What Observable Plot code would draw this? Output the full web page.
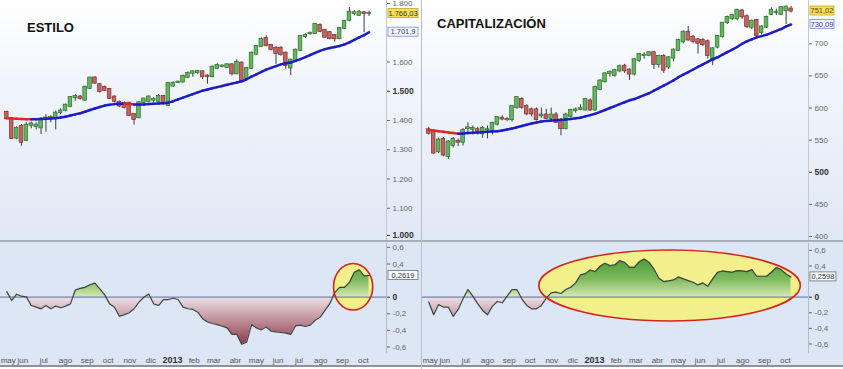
<!DOCTYPE html>
<html>
<head>
<meta charset="utf-8">
<script src="https://cdn.jsdelivr.net/npm/d3@7"></script>
<script src="https://cdn.jsdelivr.net/npm/@observablehq/plot@0.6"></script>
<style>
html,body{margin:0;padding:0;background:#fff;}
#root{position:relative;width:843px;height:369px;overflow:hidden;background:#fff;font-family:"Liberation Sans",Arial,sans-serif;}
.pan{position:absolute;top:0;width:421px;height:369px;}
.up{position:absolute;left:0;top:0;width:421px;height:240px;background:linear-gradient(#ffffff 0%,#f1f5fb 35%,#dfe8f6 100%);}
.sep{position:absolute;left:0;top:240px;width:421px;height:2px;background:#a7aeb9;}
.lo{position:absolute;left:0;top:242px;width:421px;height:124px;background:#dde6f5;}
.bot{position:absolute;left:0;top:365px;width:421px;height:2px;background:#8c929b;}
.vsep{position:absolute;left:421px;top:0;width:1px;height:369px;background:#b7bcc5;}
.ttl{position:absolute;font-weight:bold;font-size:13px;color:#111;white-space:nowrap;line-height:1;}
.slot{position:absolute;left:0;}
</style>
</head>
<body>
<div id="root"></div>
<script>
// ---------- shared axis data ----------
const weeks = d3.utcFriday.range(new Date(Date.UTC(2012, 4, 11)), new Date(Date.UTC(2013, 9, 12)));
const xDomain = [new Date(Date.UTC(2012, 4, 2)), new Date(Date.UTC(2013, 10, 5))];
const monthTicks = ["2012-05-13","2012-06-03","2012-07-03","2012-08-03","2012-09-03","2012-10-03","2012-11-03","2012-12-03","2013-02-03","2013-03-03","2013-04-03","2013-05-03","2013-06-03","2013-07-03","2013-08-03","2013-09-03","2013-10-03"];
const monthLabels = ["may","jun","jul","ago","sep","oct","nov","dic","feb","mar","abr","may","jun","jul","ago","sep","oct"];
const yearTicks = ["2013-01-03"];
const yearLabels = ["2013"];

// ---------- ESTILO ----------
const estiloOpen = [1427,1406,1340,1380,1332,1384,1380,1375,1405,1406, 1408,1428,1435,1448,1478,1480,1470,1510,1545,1522, 1512,1506,1480,1462,1458,1459,1420,1410,1462,1466, 1470,1466,1482,1452,1518,1530,1532,1548,1562,1564, 1566,1552,1550,1578,1585,1582,1590,1560,1596,1544, 1578,1627,1653,1680,1656,1647,1647,1630,1580,1606, 1640,1688,1697,1698,1725,1708,1700,1690,1680,1715, 1742,1766,1760,1768,1766];
const estiloHigh = [1432,1410,1378,1386,1392,1394,1392,1410,1420,1416, 1432,1440,1456,1482,1488,1486,1518,1548,1550,1526, 1518,1510,1484,1466,1464,1462,1424,1464,1476,1484, 1478,1488,1486,1530,1532,1534,1555,1566,1570,1570, 1570,1556,1586,1594,1590,1594,1594,1608,1600,1582, 1634,1656,1682,1690,1660,1652,1652,1634,1610,1644, 1690,1696,1702,1732,1730,1712,1704,1694,1718,1742, 1786,1776,1776,1772,1774];
const estiloLow = [1404,1335,1334,1312,1328,1372,1368,1352,1360,1392, 1368,1420,1430,1444,1466,1470,1466,1506,1524,1494, 1500,1472,1462,1444,1440,1414,1384,1406,1452,1462, 1462,1462,1456,1448,1514,1526,1528,1544,1548,1558, 1540,1524,1546,1574,1580,1578,1552,1556,1532,1540, 1574,1624,1650,1652,1638,1592,1620,1575,1554,1602, 1636,1680,1692,1694,1700,1682,1676,1668,1676,1712, 1738,1758,1756,1700,1756];
const estiloClose = [1406,1339,1373,1326,1384,1388,1384,1404,1408,1410, 1425,1432,1452,1478,1482,1476,1513,1545,1528,1500, 1503,1476,1466,1450,1445,1418,1404,1460,1473,1480, 1472,1482,1460,1527,1527,1531,1551,1560,1566,1567, 1550,1550,1582,1588,1586,1590,1560,1598,1537,1578, 1630,1653,1677,1656,1643,1630,1626,1588,1606,1640, 1687,1690,1698,1728,1705,1685,1680,1680,1715,1738, 1770,1768,1770,1766,1766.03];
const estiloMA = [1408,1407,1406,1405,1404.5,1404,1404.5,1405,1406,1407, 1408,1410,1413,1417,1421,1425,1430,1436,1441,1446, 1451,1454,1456,1457,1457,1456,1455,1455,1455,1456, 1457,1458,1459,1461,1466,1472,1478,1484,1490,1496, 1502,1506,1510,1514,1518,1522,1526,1530,1534,1541, 1550,1558,1566,1574,1580,1586,1592,1596,1598,1604, 1610,1617,1624,1631,1638,1644,1648,1651,1655,1660, 1667,1676,1684,1692,1701.9];
const estiloOsc = [0.067,-0.04,0.036,0.012,0.004,-0.10,-0.12,-0.14,-0.10,-0.14, -0.107,-0.127,-0.107,-0.08,0.087,0.107,0.119,0.15,0.17,0.10, 0.028,-0.08,-0.12,-0.23,-0.21,-0.187,-0.139,-0.06,0.0,0.04, -0.08,-0.10,-0.028,-0.028,-0.012,-0.028,-0.12,-0.139,-0.147,-0.18, -0.258,-0.298,-0.317,-0.33,-0.35,-0.37,-0.448,-0.448,-0.567,-0.543, -0.33,-0.37,-0.393,-0.36,-0.41,-0.417,-0.425,-0.433,-0.448,-0.345, -0.337,-0.353,-0.337,-0.278,-0.242,-0.159,-0.075,0.056,0.119,0.119, 0.178,0.30,0.33,0.258,0.2619];
const estiloYTicks = [1100,1200,1300,1400,1600,1800];
const estiloYBold = [1500];
const estiloYBottom = [1000];
const estiloTagValues = [1766.03, 1701.9];
const estiloTagTexts = ["1.766,03", "1.701,9"];
const estiloOscTagValue = 0.2619;
const estiloOscTagText = "0,2619";
const estiloEllipse = {center: "2013-09-19", value: 0.12, halfDays: 28, halfValue: 0.28};

// ---------- CAPITALIZACIÓN ----------
const capOpen = [566,563,532,551,525,542,548,547,568,567, 566,560,566,565,575,584,582,582,601,613, 602,597,597,588,589,584,589,581,568,587, 596,598,597,611,597,629,641,654,651,658, 665,659,653,674,682,682,686,668,680,664, 678,690,703,718,710,706,705,703,674,695, 711,733,739,739,751,742,726,736,718,726, 746,749,746,752,754];
const capHigh = [570,565,553,554,549,554,552,568,577,572, 570,571,572,578,587,588,585,604,618,616, 605,600,600,600,598,600,593,584,592,598, 600,605,615,614,634,644,655,658,660,667, 668,661,677,685,686,688,688,682,683,680, 692,707,720,727,713,708,708,706,694,712, 733,743,746,754,753,745,737,738,728,743, 756,754,758,759,758];
const capLow = [558,528,529,524,520,538,540,541,560,558, 558,553,552,558,572,580,579,578,598,598, 588,586,580,584,582,580,576,557,566,585, 592,596,596,595,595,627,639,648,648,655, 654,643,650,671,676,680,660,662,654,660, 672,688,700,704,700,684,696,676,666,692, 709,730,736,736,738,724,722,711,714,724, 744,744,744,730,748];
const capClose = [561,530,550,527,547,551,547,565,569,568, 564,568,566,576,585,583,582,602,616,601, 591,591,582,589,584,589,578,568,589,596, 597,599,613,597,632,642,653,655,658,664, 658,653,675,683,682,686,668,680,659,678, 690,705,718,706,704,701,699,682,692,711, 732,741,744,752,742,727,735,713,726,741, 752,749,756,757,751.02];
const capMA = [566,565,564,563,562,561,560,560.5,561,561.5, 562,562.5,563,563.5,564,565,566.5,568,570,572, 574,576,577.5,579,580,580.5,581,581.5,582,583, 584,585,587,589,591,594,597,600,603,606, 609,612,614,617,620,623,627,631,635,639, 643,648,652,656,660,664,668,672,676,679, 683,687,691,695,700,704,707,710,712,714, 717,720,723,727,730.09];
const capOsc = [-0.064,-0.226,-0.094,-0.128,-0.128,-0.247,-0.157,-0.021,0.098,0.013, -0.085,-0.170,-0.226,-0.115,-0.055,-0.072,0.013,0.098,0.098,-0.021, -0.106,-0.149,-0.149,-0.106,-0.013,0.055,0.064,0.047,0.098,0.128, 0.183,0.285,0.302,0.349,0.328,0.396,0.434,0.404,0.413,0.468, 0.447,0.383,0.383,0.455,0.489,0.447,0.362,0.243,0.200,0.209, 0.221,0.260,0.234,0.213,0.191,0.157,0.183,0.140,0.234,0.319, 0.336,0.328,0.319,0.340,0.336,0.328,0.353,0.268,0.268,0.268, 0.319,0.379,0.353,0.298,0.2598];
const capYTicks = [400,450,550,600,650,700];
const capYBold = [500];
const capYBottom = [];
const capTagValues = [751.02, 730.09];
const capTagTexts = ["751,02", "730,09"];
const capOscTagValue = 0.2598;
const capOscTagText = "0,2598";
const capEllipse = {center: "2013-04-21", value: 0.144, halfDays: 187, halfValue: 0.455};

const oscTicks = [-0.6,-0.4,-0.2,0.4,0.6];
const oscBold = [0];

// ---------- helpers ----------
const FONT = "Liberation Sans, Arial, sans-serif";
const fmtThousands = v => d3.format(",.0f")(v).replace(/,/g, ".");
const fmtOsc = v => v === 0 ? "0" : v.toFixed(1).replace(".", ",");
const xLabel = new Map([
  ...monthTicks.map((d, i) => [+new Date(d), monthLabels[i]]),
  ...yearTicks.map((d, i) => [+new Date(d), yearLabels[i]])
]);

function tagMark(tags) {
  return (index, scales, values, dims) => {
    const g = d3.create("svg:g");
    const x0 = dims.width - dims.marginRight + 2;
    for (const t of tags) {
      const y = scales.y(t.value);
      g.append("rect").attr("x", x0).attr("y", y - 4.5).attr("width", t.w).attr("height", 9)
        .attr("fill", t.fill).attr("stroke", t.stroke).attr("stroke-width", 0.8);
      g.append("text").attr("x", x0 + t.w / 2).attr("y", y).attr("dy", "0.35em")
        .attr("text-anchor", "middle").attr("font-size", 7.5).attr("font-family", FONT)
        .attr("fill", t.color).text(t.text);
    }
    return g.node();
  };
}

function ellipseMark(e, part) {
  return (index, scales) => {
    const c = new Date(e.center);
    const cx = scales.x(c), cy = scales.y(e.value);
    const rx = scales.x(d3.utcDay.offset(c, e.halfDays)) - cx;
    const ry = scales.y(e.value - e.halfValue) - cy;
    const el = d3.create("svg:ellipse").attr("cx", cx).attr("cy", cy).attr("rx", rx).attr("ry", ry);
    if (part === "fill") el.attr("fill", "#f3ef8a").attr("stroke", "none");
    else el.attr("fill", "none").attr("stroke", "#d3261c").attr("stroke-width", 1.6);
    return el.node();
  };
}

function gradMark(id, top) {
  return (index, scales) => {
    const g = d3.create("svg:defs");
    const y1 = scales.y(top), y2 = scales.y(-0.6);
    const z = (scales.y(0) - y1) / (y2 - y1);
    const lg = g.append("linearGradient").attr("id", id).attr("gradientUnits", "userSpaceOnUse")
      .attr("x1", 0).attr("x2", 0).attr("y1", y1).attr("y2", y2);
    [[0, "#4a9936"], [z * 0.55, "#7fb95e"], [z, "#d4e9b2"], [z, "#eee1e7"], [1, "#8a3343"]]
      .forEach(([o, c]) => lg.append("stop").attr("offset", o).attr("stop-color", c));
    return g.node();
  };
}

function build(left, cfg) {
  const pan = d3.select("#root").append("div").attr("class", "pan").style("left", left + "px");
  pan.append("div").attr("class", "up");
  pan.append("div").attr("class", "lo");
  const rows = weeks.map((date, i) => ({
    date, o: cfg.open[i], h: cfg.high[i], l: cfg.low[i], c: cfg.close[i], ma: cfg.ma[i], osc: cfg.osc[i]
  }));
  const segs = rows.slice(1).map((b, i) => ({a: rows[i], b, up: b.ma >= rows[i].ma}));

  const upper = Plot.plot({
    width: 421, height: 240, marginLeft: 0, marginRight: 35, marginTop: 0, marginBottom: 0,
    style: {background: "transparent", fontFamily: FONT, overflow: "hidden"},
    x: {type: "utc", domain: xDomain, axis: null},
    y: {domain: cfg.yDomain, axis: null},
    color: {type: "identity"},
    marks: [
      Plot.ruleX([xDomain[1]], {stroke: "#c3c9d3"}),
      Plot.axisY({ticks: cfg.yTicks, tickFormat: cfg.yFmt, anchor: "right", tickSize: 3, tickPadding: 3, fontSize: 8, color: "#666", label: null}),
      Plot.axisY({ticks: cfg.yBold, tickFormat: cfg.yFmt, anchor: "right", tickSize: 3, tickPadding: 3, fontSize: 8.5, fontWeight: "bold", color: "#333", label: null}),
      Plot.axisY({ticks: cfg.yBottom, tickFormat: cfg.yFmt, anchor: "right", tickSize: 3, tickPadding: 3, fontSize: 8.5, fontWeight: "bold", color: "#333", dy: -2, label: null}),
      Plot.ruleX(rows, {x: "date", y1: "l", y2: "h", stroke: "#3a3a3a", strokeWidth: 1}),
      Plot.rect(rows, {
        x1: d => d3.utcHour.offset(d.date, -62), x2: d => d3.utcHour.offset(d.date, 62),
        y1: "o", y2: "c", insetTop: -0.6, insetBottom: -0.6,
        fill: d => d.c >= d.o ? "#63b85c" : "#c46461",
        stroke: d => d.c >= d.o ? "#2f6a2f" : "#7a2e2e", strokeWidth: 0.7
      }),
      Plot.link(segs, {
        x1: d => d.a.date, y1: d => d.a.ma, x2: d => d.b.date, y2: d => d.b.ma,
        stroke: d => d.up ? "#1d1dc4" : "#e02828", strokeWidth: 2.5, strokeLinecap: "round"
      }),
      tagMark(cfg.tags)
    ]
  });
  pan.append("div").attr("class", "slot").style("top", "0px").node().appendChild(upper);

  const lower = Plot.plot({
    width: 421, height: 124, marginLeft: 0, marginRight: 35, marginTop: 1, marginBottom: 13,
    style: {background: "transparent", fontFamily: FONT, overflow: "hidden"},
    x: {type: "utc", domain: xDomain, axis: null},
    y: {domain: cfg.oDomain, axis: null},
    marks: [
      gradMark(cfg.gradId, cfg.gradTop),
      ellipseMark(cfg.ellipse, "fill"),
      Plot.areaY(rows, {x: "date", y1: 0, y2: "osc", fill: `url(#${cfg.gradId})`}),
      Plot.ruleY([0], {stroke: "#7482b4", strokeWidth: 1.3}),
      Plot.lineY(rows, {x: "date", y: "osc", stroke: "#3b4446", strokeWidth: 1.2}),
      ellipseMark(cfg.ellipse, "stroke"),
      Plot.ruleX([xDomain[1]], {stroke: "#b3bbc7"}),
      Plot.axisY({ticks: oscTicks, tickFormat: fmtOsc, anchor: "right", tickSize: 3, tickPadding: 3, fontSize: 8, color: "#666", label: null}),
      Plot.axisY({ticks: oscBold, tickFormat: fmtOsc, anchor: "right", tickSize: 3, tickPadding: 3, fontSize: 8.5, fontWeight: "bold", color: "#333", label: null}),
      Plot.axisX({ticks: monthTicks.map(d => new Date(d)), tickFormat: d => xLabel.get(+d), anchor: "bottom", tickSize: 0, tickPadding: 4, fontSize: 8, color: "#555", label: null}),
      Plot.axisX({ticks: yearTicks.map(d => new Date(d)), tickFormat: d => xLabel.get(+d), anchor: "bottom", tickSize: 0, tickPadding: 3, fontSize: 9, fontWeight: "bold", color: "#333", label: null}),
      tagMark(cfg.oscTags)
    ]
  });
  pan.append("div").attr("class", "slot").style("top", "242px").node().appendChild(lower);
  pan.append("div").attr("class", "sep");
  pan.append("div").attr("class", "bot");
  pan.append("div").attr("class", "ttl").style("left", cfg.titleX + "px").style("top", cfg.titleY + "px").text(cfg.title);
}

build(0, {
  title: "ESTILO", titleX: 27, titleY: 21,
  open: estiloOpen, high: estiloHigh, low: estiloLow, close: estiloClose, ma: estiloMA, osc: estiloOsc,
  yDomain: [989.7, 1810.3], yTicks: estiloYTicks, yBold: estiloYBold, yBottom: estiloYBottom, yFmt: fmtThousands,
  oDomain: [-0.678, 0.647], gradId: "gradEstilo", gradTop: 0.45, ellipse: estiloEllipse,
  tags: [
    {value: estiloTagValues[0], text: estiloTagTexts[0], w: 30, fill: "#f2e05a", stroke: "#c9a722", color: "#333"},
    {value: estiloTagValues[1], text: estiloTagTexts[1], w: 30, fill: "#f5f7ff", stroke: "#7c8bd6", color: "#2b3aa6"}
  ],
  oscTags: [{value: estiloOscTagValue, text: estiloOscTagText, w: 30, fill: "#f7f9fd", stroke: "#6a707a", color: "#333"}]
});
build(422, {
  title: "CAPITALIZACIÓN", titleX: 15, titleY: 17,
  open: capOpen, high: capHigh, low: capLow, close: capClose, ma: capMA, osc: capOsc,
  yDomain: [393.8, 767.4], yTicks: capYTicks, yBold: capYBold, yBottom: capYBottom, yFmt: d => String(d),
  oDomain: [-0.722, 0.688], gradId: "gradCap", gradTop: 0.5, ellipse: capEllipse,
  tags: [
    {value: capTagValues[0], text: capTagTexts[0], w: 24, fill: "#f2e05a", stroke: "#c9a722", color: "#6a3a10"},
    {value: capTagValues[1], text: capTagTexts[1], w: 24, fill: "#f5f7ff", stroke: "#7c8bd6", color: "#2b3aa6"}
  ],
  oscTags: [{value: capOscTagValue, text: capOscTagText, w: 26, fill: "#f7f9fd", stroke: "#6a707a", color: "#333"}]
});
d3.select("#root").append("div").attr("class", "vsep");
</script>
</body>
</html>
